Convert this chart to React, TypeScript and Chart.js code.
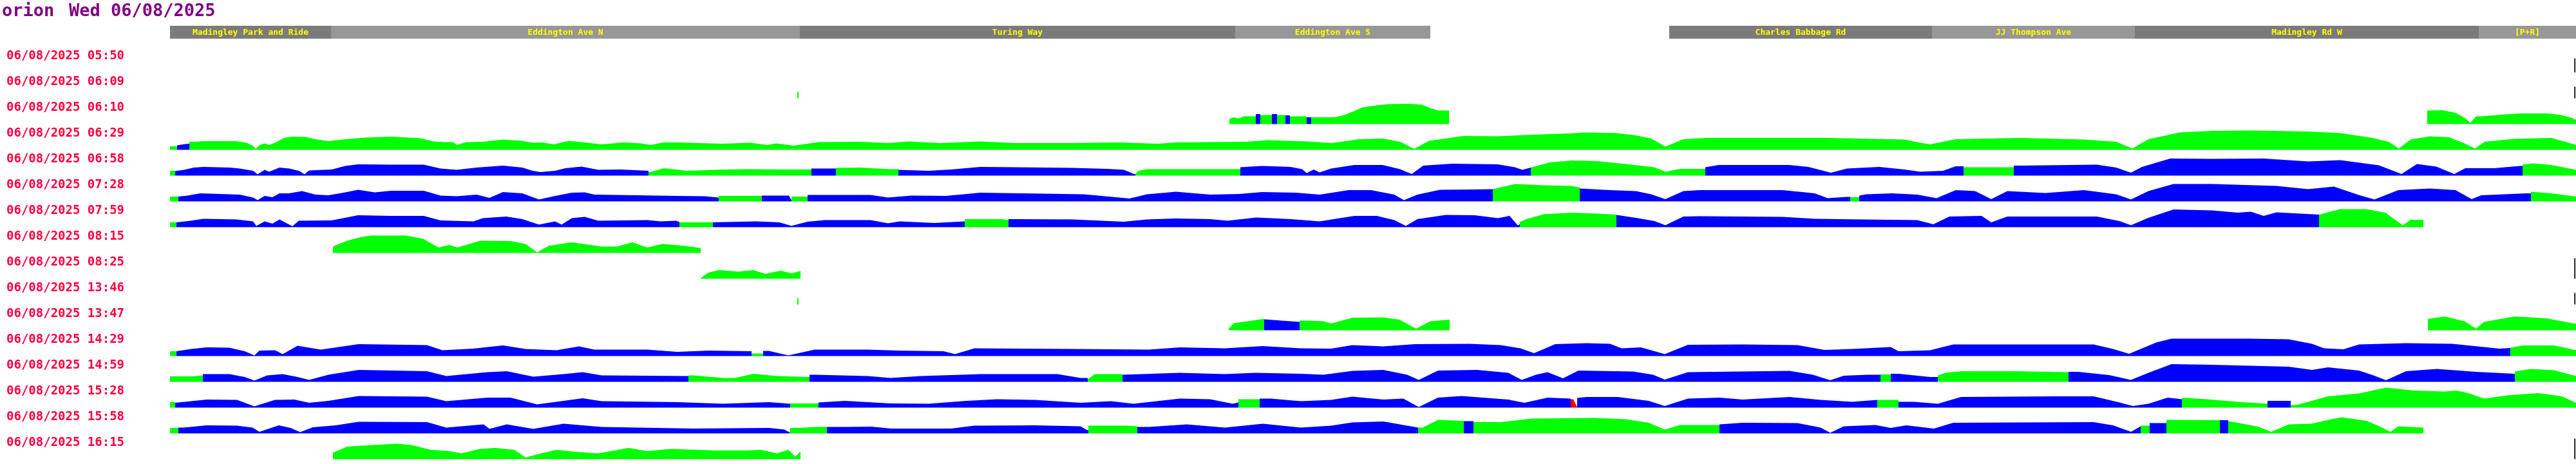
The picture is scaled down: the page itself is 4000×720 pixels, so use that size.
import React, { useEffect, useRef } from 'react';
import { Chart, registerables } from 'chart.js';

Chart.register(...registerables);

// ---------- text ----------
const titleHost = 'orion';
const titleDate = 'Wed 06/08/2025';

const rowLabels = [
  '06/08/2025 05:50', '06/08/2025 06:09', '06/08/2025 06:10', '06/08/2025 06:29',
  '06/08/2025 06:58', '06/08/2025 07:28', '06/08/2025 07:59', '06/08/2025 08:15',
  '06/08/2025 08:25', '06/08/2025 13:46', '06/08/2025 13:47', '06/08/2025 14:29',
  '06/08/2025 14:59', '06/08/2025 15:28', '06/08/2025 15:58', '06/08/2025 16:15',
];

// ---------- stops along the route (route position units) ----------
const stopNames = ['Madingley Park and Ride', 'Eddington Ave N', 'Turing Way', 'Eddington Ave S',
  'Charles Babbage Rd', 'JJ Thompson Ave', 'Madingley Rd W', '[P+R]'];
const stopFrom = [264, 514, 1242, 1918, 2592, 3000, 3315, 3849];
const stopTo = [514, 1242, 1918, 2221, 3000, 3315, 3849, 4000];
const ROUTE_START = 264;
const ROUTE_END = 4000;

// ---------- journeys: segments [colour, [position, speed, position, speed, ...]] ----------
type Seg = [string, number[]];

const row0550: Seg[] = [['k', [3997, 22, 3999.5, 22]]];
const row0609: Seg[] = [['g', [1238, 10, 1240, 10]], ['k', [3997, 18, 3999.5, 18]]];
const row0610: Seg[] = [
  ['g', [1909, 8, 1915, 10.5, 1922, 9, 1926, 9, 1930, 12, 1950, 12]],
  ['b', [1950, 15.5, 1957, 15.5]],
  ['g', [1957, 14, 1975, 14]],
  ['b', [1975, 15.5, 1983, 15.5]],
  ['g', [1983, 14, 1996, 14]],
  ['b', [1996, 13.5, 2003, 13.5]],
  ['g', [2003, 12, 2029, 12]],
  ['b', [2029, 10.5, 2036, 10.5]],
  ['g', [2036, 10.5, 2072, 10.5, 2086, 13.5, 2101, 19.5, 2116, 26, 2137, 29, 2157, 31, 2188, 31.5, 2208, 30, 2223, 24, 2234, 21, 2250, 21]],
  ['g', [3769, 21, 3793, 21.5, 3813, 17.5, 3828, 9, 3836, 2, 3845, 12, 3853, 12, 3883, 14.5, 3913, 16.5, 3957, 16.5, 3977, 14, 3992, 10, 4000, 6.5]],
];
const row0629: Seg[] = [
  ['g', [264, 5.5, 275, 5.5]],
  ['b', [275, 7, 288, 9, 294, 9.5]],
  ['g', [294, 12.5, 301, 12.5, 316, 13.5, 367, 13.5, 383, 11, 393, 6, 397, 1.5, 403, 7.5, 411, 10, 418, 7.5, 429, 12, 441, 18.5, 454, 20.5, 474, 20, 490, 16.5, 510, 13.5, 536, 16.5, 566, 19, 607, 20.5, 653, 18, 673, 13, 689, 12, 704, 12, 709, 7.5, 724, 12, 750, 12.5, 781, 16, 811, 14, 827, 11, 842, 11.5, 860, 8.5, 883, 14, 908, 11.5, 934, 8.5, 969, 11.5, 995, 10, 1010, 7.5, 1031, 11.5, 1050, 11.5, 1120, 9.5, 1165, 11, 1192, 7.5, 1205, 10, 1232, 6.5, 1272, 12, 1335, 12.5, 1379, 10.5, 1411, 13, 1460, 10.5, 1522, 13, 1576, 10.5, 1665, 10.5, 1736, 11.5, 1799, 9.5, 1826, 11.5, 1933, 12.5, 1969, 15, 2031, 13, 2067, 10.5, 2111, 16.5, 2147, 17.5, 2174, 12.5, 2196, 1.5, 2219, 14, 2272, 21.5, 2326, 21, 2379, 23.5, 2440, 25.5, 2460, 27, 2510, 26, 2540, 22.5, 2564, 17.5, 2586, 5, 2614, 16.5, 2649, 18.5, 2838, 18.5, 2957, 16, 2982, 11, 2997, 8.5, 3037, 16.5, 3137, 18.5, 3236, 16, 3286, 12.5, 3311, 2, 3336, 16.5, 3385, 27, 3435, 29.5, 3495, 30, 3584, 28.5, 3634, 26, 3684, 18.5, 3709, 12.5, 3725, 2, 3743, 16, 3773, 21, 3803, 19.5, 3828, 9.5, 3843, 2, 3858, 12.5, 3903, 17, 3962, 18.5, 3985, 12, 4000, 7.5]],
];
const row0658: Seg[] = [
  ['g', [264, 7.5, 272, 7.5]],
  ['b', [272, 7, 286, 9, 301, 12.5, 316, 13.5, 357, 12.5, 372, 11, 393, 7.5, 400, 2, 411, 9, 418, 6, 434, 12.5, 449, 11, 464, 7.5, 473, 2, 480, 8, 515, 9.5, 536, 15, 556, 17.5, 607, 17, 658, 17, 684, 11, 709, 9, 740, 12.5, 781, 15.5, 811, 12.5, 827, 7.5, 839, 5.5, 862, 7.5, 878, 11.5, 903, 14, 929, 9, 964, 9.5, 1007, 7.5]],
  ['g', [1007, 5.5, 1010, 5.5, 1031, 11.5, 1067, 7.5, 1111, 9, 1156, 10, 1219, 9.5, 1260, 9.5]],
  ['b', [1260, 11, 1298, 11]],
  ['g', [1298, 12, 1335, 12.5, 1380, 10, 1395, 10]],
  ['b', [1395, 9, 1442, 7.5, 1477, 9.5, 1522, 13.5, 1576, 13, 1665, 12, 1719, 10.5, 1745, 9, 1761, 2.5, 1763, 2.5]],
  ['g', [1763, 2.5, 1768, 7.5, 1781, 10, 1844, 10, 1926, 10]],
  ['b', [1926, 13, 1960, 15, 2004, 13.5, 2022, 10, 2029, 4, 2040, 9.5, 2049, 5, 2067, 11, 2103, 16.5, 2147, 16.5, 2174, 10, 2192, 2.5, 2210, 15.5, 2254, 18.5, 2326, 17.5, 2352, 13, 2364, 9, 2377, 12.5]],
  ['g', [2377, 12.5, 2406, 20.5, 2440, 23.5, 2480, 22.5, 2520, 18.5, 2569, 13, 2586, 6, 2609, 10.5, 2648, 10.5]],
  ['b', [2648, 13, 2669, 16.5, 2778, 16.5, 2808, 13.5, 2843, 4.5, 2868, 11, 2918, 13.5, 2957, 9.5, 2982, 6, 3017, 7.5, 3037, 14.5, 3049, 14.5]],
  ['g', [3049, 13, 3127, 13]],
  ['b', [3127, 15.5, 3137, 15.5, 3256, 17, 3286, 12.5, 3309, 4.5, 3326, 13.5, 3370, 26.5, 3435, 26, 3515, 26.5, 3584, 22, 3634, 24, 3694, 16, 3729, 2.5, 3753, 18, 3783, 14, 3811, 2.5, 3828, 11.5, 3873, 11.5, 3913, 15, 3917, 15]],
  ['g', [3917, 17, 3933, 19, 3962, 16.5, 4000, 9]],
];
const row0728: Seg[] = [
  ['g', [264, 7.5, 277, 7.5]],
  ['b', [277, 7.5, 291, 9, 311, 12.5, 372, 10.5, 393, 6, 400, 2, 411, 8.5, 423, 6.5, 434, 12.5, 449, 12.5, 469, 16, 490, 10.5, 510, 9.5, 536, 14, 556, 18, 582, 14, 607, 16.5, 658, 16.5, 684, 9, 709, 8, 740, 10.5, 760, 5.5, 781, 14.5, 811, 12.5, 837, 3, 862, 8.5, 888, 13.5, 908, 14, 923, 10.5, 990, 9.5, 1050, 8.5, 1094, 8, 1116, 6]],
  ['g', [1116, 8.5, 1183, 8.5]],
  ['b', [1183, 9, 1225, 9, 1229, 2]],
  ['g', [1229, 7.5, 1254, 7.5]],
  ['b', [1254, 10, 1352, 10, 1379, 6, 1415, 9, 1469, 8.5, 1522, 13.5, 1620, 12, 1683, 11, 1754, 4.5, 1781, 11, 1826, 15, 1879, 10.5, 1924, 11.5, 1960, 14.5, 2013, 13.5, 2049, 10.5, 2094, 17.5, 2129, 17.5, 2165, 10.5, 2180, 2, 2201, 10.5, 2236, 18, 2290, 18.5, 2318, 19]],
  ['g', [2318, 19, 2353, 27, 2397, 25, 2440, 24, 2453, 21.5]],
  ['b', [2453, 20, 2500, 17.5, 2540, 16, 2564, 11, 2586, 3.5, 2614, 16, 2639, 17.5, 2768, 17.5, 2818, 12.5, 2838, 5, 2868, 7, 2873, 7]],
  ['g', [2873, 6.5, 2887, 6.5]],
  ['b', [2887, 9, 2898, 11, 2938, 12.5, 2977, 10.5, 3007, 5, 3037, 17.5, 3067, 16, 3092, 3.5, 3117, 16, 3176, 13, 3236, 17.5, 3286, 11, 3309, 3, 3336, 16, 3375, 27, 3435, 27, 3535, 24, 3584, 19, 3624, 23, 3664, 9.5, 3687, 3, 3724, 17.5, 3773, 20, 3813, 17.5, 3838, 3.5, 3853, 9.5, 3923, 12.5, 3930, 12.5]],
  ['g', [3930, 15, 3962, 12.5, 4000, 7.5]],
];
const row0759: Seg[] = [
  ['g', [264, 7.5, 274, 7.5]],
  ['b', [274, 7.5, 296, 10, 316, 13, 367, 12, 393, 9, 398, 2, 411, 9, 423, 5.5, 434, 12, 454, 1.5, 464, 10, 515, 10.5, 556, 18.5, 607, 17.5, 658, 17.5, 684, 10.5, 735, 9, 750, 14, 786, 16.5, 811, 12.5, 837, 4, 862, 9, 872, 4, 888, 14, 908, 16, 929, 10, 1005, 11, 1026, 9, 1050, 10, 1055, 8]],
  ['g', [1055, 7.5, 1107, 7.5]],
  ['b', [1107, 7.5, 1174, 9, 1210, 7.5, 1229, 2, 1254, 8.5, 1281, 11, 1352, 11, 1379, 6, 1397, 9, 1451, 6.5, 1498, 9]],
  ['g', [1498, 12.5, 1556, 12.5, 1566, 11]],
  ['b', [1566, 12.5, 1665, 12, 1745, 8.5, 1781, 12, 1826, 13.5, 1879, 12.5, 1906, 10, 1951, 15, 2004, 12.5, 2049, 9, 2103, 17.5, 2138, 17.5, 2165, 11, 2183, 2, 2201, 12.5, 2245, 19, 2290, 18.5, 2326, 14, 2344, 17.5, 2357, 2.5, 2360, 5]],
  ['g', [2360, 8, 2370, 12.5, 2397, 20, 2440, 22.5, 2480, 21, 2510, 19.5]],
  ['b', [2510, 19, 2540, 14.5, 2569, 9.5, 2586, 3, 2614, 16.5, 2639, 17, 2768, 16, 2818, 13, 2888, 12, 2977, 11, 3002, 4.5, 3027, 16.5, 3077, 17.5, 3092, 7.5, 3117, 16.5, 3256, 16.5, 3291, 9.5, 3309, 3, 3336, 14.5, 3375, 27.5, 3435, 26, 3475, 22.5, 3495, 24, 3515, 17.5, 3535, 23, 3601, 19.5]],
  ['g', [3601, 19.5, 3634, 28, 3674, 28, 3704, 22.5, 3719, 11.5, 3731, 3, 3743, 11.5, 3763, 11.5]],
];
const row0815: Seg[] = [
  ['g', [517, 10, 539, 19, 558, 24, 575, 27, 630, 27, 657, 22, 681, 8.5, 698, 12.5, 710, 8.5, 746, 19, 793, 18.5, 816, 14, 834, 1, 852, 11, 887, 16.5, 934, 10, 958, 10, 982, 16.5, 1005, 8.5, 1029, 14, 1064, 11, 1088, 7.5]],
];
const row0825: Seg[] = [
  ['g', [1088, 1, 1100, 9.5, 1117, 13.5, 1147, 11, 1170, 13.5, 1188, 7.5, 1212, 12.5, 1229, 8.5, 1243, 12]],
  ['k', [3997, 32, 3999.5, 32]],
];
const row1346: Seg[] = [['g', [1238, 10, 1240, 10]], ['k', [3997, 18, 3999.5, 18]]];
const row1347: Seg[] = [
  ['g', [1908, 2.5, 1916, 11, 1937, 14, 1961, 17.5, 1963, 17.5]],
  ['b', [1963, 17, 1990, 15, 2018, 13]],
  ['g', [2018, 15, 2032, 15, 2055, 14, 2067, 10.5, 2100, 19.5, 2148, 20, 2173, 16.5, 2199, 2.5, 2221, 14, 2251, 16.5]],
  ['g', [3770, 17.5, 3796, 21.5, 3827, 14, 3845, 2.5, 3857, 13, 3905, 21.5, 3954, 18.5, 4000, 10]],
];
const row1429: Seg[] = [
  ['g', [264, 7.5, 274, 7.5]],
  ['b', [274, 7.5, 297, 11, 321, 13.5, 356, 13, 380, 7.5, 395, 1, 403, 8.5, 427, 9, 439, 3, 462, 16, 498, 10, 557, 18.5, 663, 17, 687, 9, 734, 11.5, 781, 16.5, 816, 11, 864, 9, 899, 15, 923, 10, 1005, 10, 1052, 6.5, 1100, 8.5, 1167, 7.5]],
  ['g', [1167, 4, 1185, 4]],
  ['b', [1185, 8, 1194, 8, 1224, 1, 1265, 10, 1347, 10, 1395, 8.5, 1465, 7.5, 1483, 3, 1513, 12, 1666, 11, 1784, 10, 1832, 13.5, 1902, 12, 1961, 15.5, 2020, 12, 2067, 11.5, 2100, 17, 2148, 15, 2197, 18.5, 2282, 19, 2330, 17, 2361, 12, 2382, 4.5, 2415, 18.5, 2464, 20, 2500, 19, 2518, 12, 2548, 13.5, 2585, 3, 2621, 17.5, 2706, 18, 2791, 17, 2833, 9.5, 2876, 11, 2936, 14, 2948, 7.5, 2997, 9, 3033, 18, 3251, 18, 3281, 11, 3306, 3.5, 3348, 21, 3372, 27, 3493, 27, 3554, 26, 3590, 19, 3609, 12, 3639, 10.5, 3663, 18, 3736, 20, 3808, 19, 3857, 14, 3881, 11.5, 3898, 12.5]],
  ['g', [3898, 13, 3918, 16.5, 3966, 16.5, 4000, 9]],
];
const row1459: Seg[] = [
  ['g', [264, 8.5, 300, 8.5, 315, 10]],
  ['b', [315, 12, 356, 12, 380, 7.5, 395, 2, 415, 10, 439, 12, 462, 7.5, 480, 3, 510, 11, 557, 18.5, 663, 16.5, 693, 9, 757, 15, 787, 16.5, 828, 8, 875, 12, 905, 15, 934, 10, 1064, 9, 1069, 9]],
  ['g', [1069, 10, 1076, 10, 1123, 6, 1141, 6, 1170, 12.5, 1206, 9, 1257, 7.5]],
  ['b', [1257, 11, 1265, 11, 1347, 9, 1383, 6, 1430, 9, 1524, 12, 1642, 12, 1678, 6, 1689, 6]],
  ['g', [1689, 4, 1700, 12, 1743, 12]],
  ['b', [1743, 11, 1832, 14, 1902, 12, 1949, 14, 2020, 12.5, 2055, 11, 2100, 17, 2148, 18.5, 2185, 11, 2203, 3, 2233, 17.5, 2294, 18.5, 2342, 14, 2363, 3, 2385, 11, 2403, 15, 2427, 5.5, 2451, 17.5, 2536, 16, 2567, 11, 2585, 3.5, 2621, 15, 2779, 17, 2815, 11, 2842, 2.5, 2863, 9.5, 2900, 11, 2920, 11]],
  ['g', [2920, 11.5, 2936, 11.5]],
  ['b', [2936, 12.5, 2948, 12.5, 2997, 7.5, 3009, 7.5]],
  ['g', [3009, 10, 3021, 14, 3045, 16.5, 3130, 16.5, 3212, 15]],
  ['b', [3212, 15.5, 3227, 15.5, 3275, 10.5, 3309, 3, 3336, 14, 3372, 27.5, 3433, 26.5, 3554, 23.5, 3590, 18.5, 3615, 22.5, 3663, 17.5, 3687, 9.5, 3705, 2.5, 3736, 16.5, 3784, 20, 3845, 15.5, 3905, 12.5]],
  ['g', [3905, 16, 3930, 20, 3966, 18, 4000, 9]],
];
const row1528: Seg[] = [
  ['g', [264, 8.5, 272, 8.5]],
  ['b', [272, 7.5, 321, 12.5, 368, 12, 395, 2, 427, 12, 457, 12.5, 480, 7.5, 510, 10.5, 557, 18, 663, 17, 693, 10, 757, 15.5, 793, 15.5, 834, 5, 875, 10.5, 905, 14.5, 934, 10, 1052, 8.5, 1123, 6, 1194, 8.5, 1227, 6]],
  ['g', [1227, 6.5, 1271, 6.5]],
  ['b', [1271, 8, 1312, 10.5, 1383, 6.5, 1442, 6, 1501, 10.5, 1548, 13, 1607, 12, 1678, 7.5, 1725, 10, 1760, 6, 1832, 14, 1879, 13, 1914, 6, 1923, 8]],
  ['g', [1923, 13, 1956, 13]],
  ['b', [1956, 14, 1973, 14, 2020, 10, 2067, 12, 2100, 17, 2148, 12.5, 2179, 14, 2203, 1, 2233, 15.5, 2270, 18, 2342, 12.5, 2367, 7.5, 2403, 15.5, 2439, 14]],
  ['r', [2439, 13, 2443, 13, 2449, 1]],
  ['b', [2449, 15, 2464, 16.5, 2512, 16.5, 2560, 10.5, 2585, 2.5, 2621, 14, 2670, 15.5, 2706, 12.5, 2779, 16.5, 2827, 12, 2876, 9, 2915, 12]],
  ['g', [2915, 12, 2948, 12]],
  ['b', [2948, 9, 2972, 9, 3009, 6, 3045, 16.5, 3191, 17.5, 3251, 17.5, 3287, 9, 3312, 2.5, 3336, 6, 3366, 15.5, 3388, 13]],
  ['g', [3388, 15, 3397, 15, 3433, 12.5, 3481, 8.5, 3521, 6]],
  ['b', [3521, 10.5, 3557, 10.5]],
  ['g', [3557, 4, 3566, 4, 3615, 17.5, 3663, 22, 3705, 31, 3748, 26.5, 3796, 25, 3814, 26.5, 3833, 22.5, 3857, 14, 3893, 19, 3942, 22.5, 3978, 17.5, 4000, 7.5]],
];
const row1558: Seg[] = [
  ['g', [264, 8.5, 277, 8.5]],
  ['b', [277, 9, 285, 9, 321, 12.5, 368, 12, 392, 9, 403, 2.5, 433, 12.5, 451, 8.5, 466, 2, 486, 9.5, 521, 12.5, 557, 18, 663, 17.5, 693, 9, 751, 14, 760, 7, 787, 14, 828, 7, 875, 15, 905, 12.5, 934, 10, 1076, 7.5, 1194, 8.5, 1218, 6, 1227, 1]],
  ['g', [1227, 8.5, 1241, 8.5, 1265, 10, 1284, 10]],
  ['b', [1284, 10, 1312, 10, 1353, 10.5, 1383, 7.5, 1477, 7.5, 1513, 12, 1607, 12.5, 1678, 11, 1688, 5, 1690, 5]],
  ['g', [1690, 12, 1713, 12, 1749, 12, 1766, 11]],
  ['b', [1766, 10, 1784, 10, 1843, 14, 1902, 9, 1961, 15, 2020, 9, 2067, 12, 2100, 17, 2148, 18.5, 2185, 12, 2202, 9]],
  ['g', [2202, 9, 2209, 9, 2233, 21, 2270, 19.5, 2273, 19]],
  ['b', [2273, 19, 2288, 19]],
  ['g', [2288, 17.5, 2330, 17.5, 2379, 23, 2476, 24, 2524, 22, 2560, 16.5, 2585, 6, 2609, 13, 2670, 13]],
  ['b', [2670, 14, 2706, 16.5, 2791, 16, 2827, 9, 2842, 1, 2863, 11, 2912, 13, 2936, 8.5, 2960, 12.5, 3003, 7.5, 3033, 16.5, 3251, 17.5, 3281, 12.5, 3309, 2.5, 3324, 11]],
  ['g', [3324, 12, 3338, 12]],
  ['b', [3338, 16, 3364, 16]],
  ['g', [3364, 21, 3447, 20.5]],
  ['b', [3447, 20.5, 3460, 20.5]],
  ['g', [3460, 19, 3469, 17.5, 3506, 10.5, 3527, 2.5, 3554, 14, 3590, 15, 3615, 21, 3636, 25, 3675, 19.5, 3699, 9, 3712, 2.5, 3724, 11, 3763, 9]],
];
const row1615: Seg[] = [
  ['g', [517, 10, 539, 19.5, 580, 22, 616, 24, 639, 22, 669, 14.5, 698, 12.5, 716, 9, 746, 16, 769, 17.5, 799, 14.5, 816, 2.5, 840, 9, 864, 14.5, 899, 11, 929, 9, 976, 17.5, 1005, 12.5, 1041, 16, 1111, 13.5, 1159, 13.5, 1182, 14.5, 1206, 9, 1224, 14.5, 1235, 4, 1243, 12]],
  ['k', [3997, 32, 3999.5, 32]],
];

const journeys = [row0550, row0609, row0610, row0629, row0658, row0728, row0759, row0815,
  row0825, row1346, row1347, row1429, row1459, row1528, row1558, row1615];

// ---------- styles ----------
const COLORS: Record<string, string> = { g: '#00ff00', b: '#0000ff', r: '#ff0000', k: '#3a3a3a' };
const BAR_DARK = '#7b7b7b';
const BAR_LIGHT = '#979797';
const LABEL_COLOR = '#ff0040';
const TITLE_COLOR = '#800080';
const FONT = '"DejaVu Sans Mono", "Liberation Mono", monospace';
const W = 4000;
const H = 720;
const LANE = 40;
const FIRST_LABEL = 87.5;
const BASE_OFFSET = 25;

const overlayPlugin = {
  id: 'overlay',
  afterDraw(chart: any) {
    const { ctx } = chart;
    const x = chart.scales.x;
    ctx.save();
    // stop bar
    stopNames.forEach((name, i) => {
      const l = x.getPixelForValue(stopFrom[i]);
      const r = x.getPixelForValue(stopTo[i]);
      ctx.fillStyle = i % 2 === 0 ? BAR_DARK : BAR_LIGHT;
      ctx.fillRect(l, 40, r - l, 20);
      ctx.fillStyle = '#ffff00';
      ctx.font = `bold 13px ${FONT}`;
      ctx.textAlign = 'center';
      ctx.textBaseline = 'middle';
      ctx.fillText(name, (l + r) / 2, 51);
    });
    // title
    ctx.fillStyle = TITLE_COLOR;
    ctx.font = `bold 27px ${FONT}`;
    ctx.textAlign = 'left';
    ctx.textBaseline = 'alphabetic';
    ctx.fillText(titleHost, 3, 25);
    ctx.fillText(titleDate, 107, 25);
    ctx.restore();
  },
};

export default function App() {
  const ref = useRef<HTMLCanvasElement>(null);
  useEffect(() => {
    document.body.style.margin = '0';
    const datasets: any[] = [];
    journeys.forEach((segs, i) => {
      const base = FIRST_LABEL + BASE_OFFSET + LANE * i;
      segs.forEach(([c, pts]) => {
        const data: { x: number; y: number }[] = [];
        for (let k = 0; k < pts.length; k += 2) data.push({ x: pts[k], y: base - pts[k + 1] });
        datasets.push({
          data,
          backgroundColor: COLORS[c],
          borderColor: 'rgba(0,0,0,0)',
          borderWidth: 0,
          pointRadius: 0,
          tension: 0,
          fill: { value: base },
        });
      });
    });
    const chart = new Chart(ref.current!, {
      type: 'line',
      data: { datasets },
      options: {
        animation: false,
        responsive: false,
        devicePixelRatio: 1,
        layout: { padding: { left: 10, right: 0, top: 0, bottom: 0 } },
        plugins: { legend: { display: false }, tooltip: { enabled: false }, title: { display: false } },
        scales: {
          x: { type: 'linear', min: ROUTE_START, max: ROUTE_END, display: false },
          y: {
            type: 'linear', min: 0, max: H, reverse: true,
            afterBuildTicks: (s: any) => { s.ticks = rowLabels.map((_, i) => ({ value: FIRST_LABEL + LANE * i })); },
            afterFit: (s: any) => { s.width = 254; s.paddingTop = 0; s.paddingBottom = 0; },
            grid: { display: false },
            border: { display: false },
            ticks: {
              autoSkip: false,
              crossAlign: 'far',
              padding: 0,
              color: LABEL_COLOR,
              font: { family: FONT, weight: 'bold', size: 19 },
              callback: (_v: any, idx: number) => rowLabels[idx],
            },
          },
        },
      },
      plugins: [overlayPlugin],
    });
    return () => chart.destroy();
  }, []);
  return (
    <div style={{ position: 'absolute', left: 0, top: 0 }}>
      <canvas ref={ref} width={W} height={H} style={{ display: 'block', width: W, height: H }} />
    </div>
  );
}
